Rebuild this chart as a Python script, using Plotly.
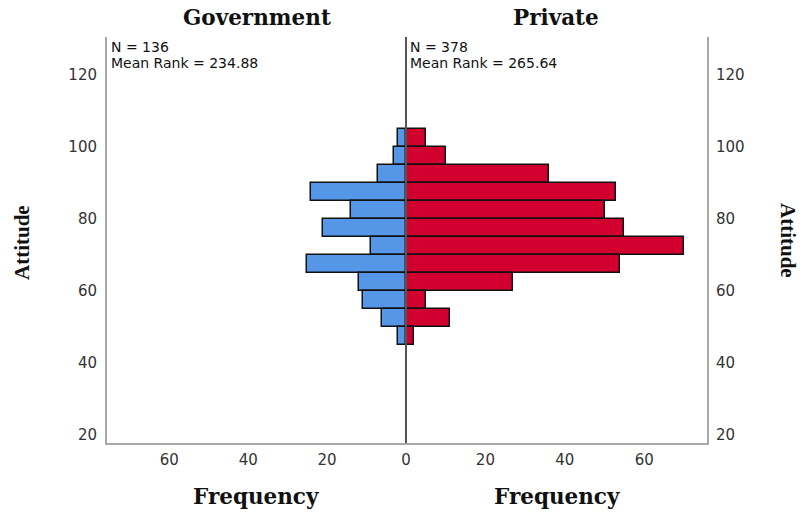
import plotly.graph_objects as go

# Attitude histogram bins (lower edge of each 5-point bin)
bin_lower = [100, 95, 90, 85, 80, 75, 70, 65, 60, 55, 50, 45]
bin_width = 5
government_freq = [2, 3, 7, 24, 14, 21, 9, 25, 12, 11, 6, 2]
private_freq = [5, 10, 36, 53, 50, 55, 70, 54, 27, 5, 11, 2]

gov_label = ["N = 136", "Mean Rank = 234.88"]
priv_label = ["N = 378", "Mean Rank = 265.64"]

x_ticks_left = [20, 40, 60]
x_ticks_right = [0, 20, 40, 60]
y_ticks = [20, 40, 60, 80, 100, 120]

BLUE = "#5596E6"
RED = "#D2002E"
AXIS_GREY = "#A8A8A8"
TICK_FONT = dict(family="DejaVu Sans", size=15, color="#333333")
TITLE_FONT = dict(family="DejaVu Serif", size=21.5, color="#111111")

centers = [b + bin_width / 2 for b in bin_lower]
split = 299 / 600

fig = go.Figure()
fig.add_trace(go.Bar(
    x=government_freq, y=centers, width=bin_width, orientation="h",
    marker=dict(color=BLUE, line=dict(color="#111111", width=1.5)),
    xaxis="x", yaxis="y", showlegend=False,
))
fig.add_trace(go.Bar(
    x=private_freq, y=centers, width=bin_width, orientation="h",
    marker=dict(color=RED, line=dict(color="#111111", width=1.5)),
    xaxis="x2", yaxis="y2", showlegend=False,
))

y_range = [17.8, 130.6]
x_max = 75.8

fig.update_layout(
    width=802, height=513, autosize=False,
    margin=dict(l=107, r=95, t=37, b=70),
    paper_bgcolor="white", plot_bgcolor="white",
    bargap=0,
    xaxis=dict(
        domain=[0, split], range=[x_max, 0], anchor="y",
        tickvals=x_ticks_left, ticks="outside", ticklen=2,
        tickcolor="rgba(0,0,0,0)", tickfont=TICK_FONT,
        showgrid=False, zeroline=False,
        showline=True, linecolor=AXIS_GREY, linewidth=2,
    ),
    xaxis2=dict(
        domain=[split, 1], range=[0, x_max], anchor="y2",
        tickvals=x_ticks_right, ticks="outside", ticklen=2,
        tickcolor="rgba(0,0,0,0)", tickfont=TICK_FONT,
        showgrid=False, zeroline=False,
        showline=True, linecolor=AXIS_GREY, linewidth=2,
    ),
    yaxis=dict(
        range=y_range, anchor="x", side="left",
        tickvals=y_ticks, ticks="outside", ticklen=5,
        tickcolor="rgba(0,0,0,0)", tickfont=TICK_FONT,
        showgrid=False, zeroline=False,
        showline=True, linecolor=AXIS_GREY, linewidth=2,
    ),
    yaxis2=dict(
        range=y_range, anchor="x2", side="right",
        tickvals=y_ticks, ticks="outside", ticklen=4,
        tickcolor="rgba(0,0,0,0)", tickfont=TICK_FONT,
        showgrid=False, zeroline=False,
        showline=True, linecolor=AXIS_GREY, linewidth=2,
    ),
)

# Centre divider between the two panels
fig.add_shape(type="line", xref="paper", yref="paper",
              x0=split, x1=split, y0=0, y1=1,
              line=dict(color="#555555", width=2))

annotations = []
# Panel statistics
for x0, lines in ((0, gov_label), (split, priv_label)):
    for yv, txt in zip((127.95, 123.45), lines):
        annotations.append(dict(
            xref="paper", yref="y", x=x0, y=yv, xshift=2,
            xanchor="left", yanchor="middle", showarrow=False,
            text=txt, font=dict(family="DejaVu Sans", size=14, color="#111111"),
        ))
# Panel titles
for xp, txt in ((0.25, "<b>Government</b>"), (0.748, "<b>Private</b>")):
    annotations.append(dict(xref="paper", yref="paper", x=xp, y=1.0468,
                            xanchor="center", yanchor="middle", showarrow=False,
                            text=txt, font=TITLE_FONT))
# Frequency axis titles
for xp in (0.2475, 0.75):
    annotations.append(dict(xref="paper", yref="paper", x=xp, y=-0.133,
                            xanchor="center", yanchor="middle", showarrow=False,
                            text="<b>Frequency</b>", font=TITLE_FONT))
# Attitude axis titles
annotations.append(dict(xref="paper", yref="paper", x=-0.1417, y=0.495,
                        xanchor="center", yanchor="middle", showarrow=False,
                        textangle=-90, text="<b>Attitude</b>",
                        font=dict(family="Liberation Serif", size=21, color="#111111")))
annotations.append(dict(xref="paper", yref="paper", x=1.135, y=0.5,
                        xanchor="center", yanchor="middle", showarrow=False,
                        textangle=90, text="<b>Attitude</b>",
                        font=dict(family="Liberation Serif", size=21, color="#111111")))
fig.update_layout(annotations=annotations)

fig.write_html("out.html")
